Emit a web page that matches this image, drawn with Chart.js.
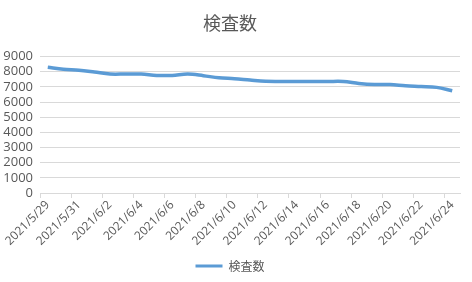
<!DOCTYPE html>
<html><head><meta charset="utf-8">
<script src="https://cdn.jsdelivr.net/npm/chart.js@4/dist/chart.umd.min.js"></script>
<style>html,body{margin:0;padding:0;background:#fff}#wrap{width:472px;height:282px}</style>
</head><body><div id="wrap"><canvas id="c" width="472" height="282"></canvas></div>
<script>
const categories = ["2021/5/29","2021/5/30","2021/5/31","2021/6/1","2021/6/2","2021/6/3","2021/6/4","2021/6/5","2021/6/6","2021/6/7","2021/6/8","2021/6/9","2021/6/10","2021/6/11","2021/6/12","2021/6/13","2021/6/14","2021/6/15","2021/6/16","2021/6/17","2021/6/18","2021/6/19","2021/6/20","2021/6/21","2021/6/22","2021/6/23","2021/6/24"];
const seriesName = "検査数";
const testCounts = [8300,8170,8100,7980,7850,7850,7850,7760,7760,7850,7740,7600,7540,7450,7370,7360,7360,7360,7360,7360,7230,7160,7160,7080,7030,6970,6750];
const yTicks = [0,1000,2000,3000,4000,5000,6000,7000,8000,9000];

const txt = '#595959', grid = '#D9D9D9';
new Chart(document.getElementById('c'), {
  type: 'line',
  data: { labels: categories, datasets: [{
    label: seriesName, data: testCounts,
    borderColor: '#5B9BD5', backgroundColor: '#5B9BD5',
    borderWidth: 3.5, pointRadius: 0, tension: 0.35
  }]},
  options: {
    responsive: false, animation: false,
    layout: { padding: { left: 0, right: 12, top: 8, bottom: 0 } },
    plugins: {
      title: { display: true, text: seriesName, color: txt,
        font: { family: '"Noto Sans CJK JP"', size: 18, weight: 'normal' }, padding: { top: 4, bottom: 23 } },
      legend: { position: 'bottom',
        labels: { color: txt, boxWidth: 27, boxHeight: 3, padding: 6,
          font: { family: '"Noto Sans CJK JP"', size: 12 },
          generateLabels: (chart) => [{ text: seriesName, fillStyle: '#5B9BD5', strokeStyle: '#5B9BD5', lineWidth: 0, fontColor: txt, datasetIndex: 0 }] } },
      tooltip: { enabled: false }
    },
    scales: {
      x: { type: 'category', offset: true,
        afterFit: (s) => { s.height = 61; },
        grid: { offset: true, drawOnChartArea: false, drawTicks: true, tickLength: 5,
          color: (ctx) => (ctx.index !== undefined && ctx.index % 2 === 0) ? grid : 'rgba(0,0,0,0)' },
        border: { display: true, color: grid },
        ticks: { autoSkip: false, minRotation: 45, maxRotation: 45, color: txt, padding: 0,
          font: { family: '"Open Sans"', size: 12 },
          callback: (v, i) => i % 2 === 0 ? categories[i] : '' } },
      y: { min: yTicks[0], max: yTicks[yTicks.length - 1],
        afterBuildTicks: (s) => { s.ticks = yTicks.map(v => ({ value: v })); },
        afterFit: (s) => { s.width = 40; },
        grid: { color: grid, drawTicks: false },
        border: { display: false },
        ticks: { autoSkip: false, color: txt, padding: 7, font: { family: '"Open Sans"', size: 13 },
          callback: (v) => String(v) } }
    }
  }
});
</script></body></html>
